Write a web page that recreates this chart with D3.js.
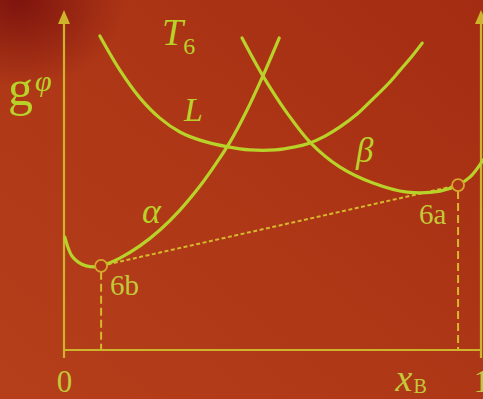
<!DOCTYPE html>
<html>
<head>
<meta charset="utf-8">
<script src="https://cdn.jsdelivr.net/npm/d3@7"></script>
<style>
  html, body { margin: 0; padding: 0; background: #ab3515; }
  svg { display: block; }
</style>
</head>
<body>
<div id="chart"></div>
<script>
// free energy curves (x = mole fraction of B, g in arbitrary units)
const alphaX = [0.002, 0.010, 0.019, 0.034, 0.053, 0.074, 0.089, 0.134, 0.182, 0.230, 0.278, 0.326, 0.362, 0.398, 0.439, 0.477, 0.516];
const alphaG = [3.34, 3.02, 2.78, 2.60, 2.49, 2.46, 2.49, 2.72, 3.08, 3.55, 4.14, 4.85, 5.47, 6.15, 7.10, 8.11, 9.23];

const liquidX = [0.086, 0.134, 0.182, 0.230, 0.278, 0.326, 0.393, 0.446, 0.506, 0.554, 0.588, 0.626, 0.662, 0.703, 0.741, 0.777, 0.806, 0.835, 0.859];
const liquidG = [9.29, 8.28, 7.46, 6.86, 6.45, 6.21, 6.01, 5.92, 5.92, 6.01, 6.12, 6.33, 6.60, 6.98, 7.43, 7.87, 8.28, 8.70, 9.08];

const betaX = [0.427, 0.477, 0.535, 0.592, 0.662, 0.741, 0.823, 0.902, 0.945, 0.974, 1.005];
const betaG = [9.23, 8.11, 7.01, 6.12, 5.41, 4.94, 4.67, 4.70, 4.88, 5.12, 5.62];

// common tangent points
const tangentNames = ["6b", "6a"];
const tangentX = [0.089, 0.945];
const tangentG = [2.49, 4.88];

const tickValues = [0, 1];
const tickLabels = ["0", "1"];

const W = 483, H = 399;
const svg = d3.select("#chart").append("svg")
    .attr("width", W)
    .attr("height", H);

const margin = { top: 12, right: 2, bottom: 49, left: 64 };
const x = d3.scaleLinear().domain([0, 1]).range([margin.left, W - margin.right]);
const y = d3.scaleLinear().domain([0, 10]).range([H - margin.bottom, margin.top]);

const curveColor = "#b9d22a";
const axisColor = "#cdb42a";
const textColor = "#c4c83a";
const serif = "'Liberation Serif', 'DejaVu Serif', serif";

// background
const defs = svg.append("defs");
const lin = defs.append("linearGradient").attr("id", "bg")
    .attr("x1", "0").attr("y1", "1").attr("x2", "1").attr("y2", "0");
lin.append("stop").attr("offset", "0%").attr("stop-color", "#b53f1a");
lin.append("stop").attr("offset", "55%").attr("stop-color", "#ad3616");
lin.append("stop").attr("offset", "100%").attr("stop-color", "#a42c12");
const rad = defs.append("radialGradient").attr("id", "spot")
    .attr("cx", "0.04").attr("cy", "0.0").attr("r", "0.22");
rad.append("stop").attr("offset", "0%").attr("stop-color", "#7e140e").attr("stop-opacity", 1);
rad.append("stop").attr("offset", "100%").attr("stop-color", "#7e140e").attr("stop-opacity", 0);

svg.append("rect").attr("width", W).attr("height", H).attr("fill", "url(#bg)");
svg.append("rect").attr("width", W).attr("height", H).attr("fill", "url(#spot)");

// axes
const x0 = x(0), x1 = x(1), yb = y(0), yt = y(10);
const axes = svg.append("g").attr("stroke", axisColor).attr("stroke-width", 2.2).attr("fill", "none");
axes.append("line").attr("x1", x0).attr("x2", x0).attr("y1", yb + 8).attr("y2", yt + 10);
axes.append("line").attr("x1", x1).attr("x2", x1).attr("y1", yb + 8).attr("y2", yt + 10);
axes.append("line").attr("x1", x0).attr("x2", x1).attr("y1", yb).attr("y2", yb);

[x0, x1].forEach(px => {
    svg.append("path")
        .attr("d", `M${px},${yt - 2} L${px - 6},${yt + 12} L${px + 6},${yt + 12} Z`)
        .attr("fill", axisColor);
});

// tick labels
const xAxis = svg.append("g")
    .attr("transform", `translate(0,${yb})`)
    .call(d3.axisBottom(x).tickValues(tickValues).tickFormat((d, i) => tickLabels[i]).tickSize(0).tickPadding(0));
xAxis.select(".domain").remove();
xAxis.selectAll("text")
    .attr("dy", null)
    .attr("y", 42)
    .attr("fill", textColor)
    .style("font-family", serif)
    .style("font-size", "31px");

// tangent line and drop lines
const line = d3.line().x(d => x(d[0])).y(d => y(d[1]));
svg.append("path")
    .datum(d3.zip(tangentX, tangentG))
    .attr("d", line)
    .attr("fill", "none")
    .attr("stroke", "#d6b82c")
    .attr("stroke-width", 2)
    .attr("stroke-dasharray", "4,2.5");

tangentX.forEach((tx, i) => {
    svg.append("line")
        .attr("x1", x(tx)).attr("x2", x(tx))
        .attr("y1", y(tangentG[i]) + 6).attr("y2", yb)
        .attr("stroke", "#d6b82c")
        .attr("stroke-width", 2)
        .attr("stroke-dasharray", "8,4");
});

// free energy curves
const smooth = d3.line().x(d => x(d[0])).y(d => y(d[1])).curve(d3.curveCatmullRom.alpha(0.5));
[[alphaX, alphaG], [liquidX, liquidG], [betaX, betaG]].forEach(([xs, gs]) => {
    svg.append("path")
        .datum(d3.zip(xs, gs))
        .attr("d", smooth)
        .attr("fill", "none")
        .attr("stroke", curveColor)
        .attr("stroke-width", 3.2)
        .attr("stroke-linecap", "round");
});

// tangent points
svg.selectAll("circle.pt")
    .data(d3.zip(tangentX, tangentG))
    .enter().append("circle")
    .attr("class", "pt")
    .attr("cx", d => x(d[0]))
    .attr("cy", d => y(d[1]))
    .attr("r", 6)
    .attr("fill", "#ad3616")
    .attr("stroke", "#d8a62e")
    .attr("stroke-width", 1.8);

// labels
function label(px, py, txt, size, opts = {}) {
    return svg.append("text")
        .attr("x", px).attr("y", py)
        .attr("fill", opts.color || curveColor)
        .style("font-family", serif)
        .style("font-size", size + "px")
        .style("font-style", opts.italic ? "italic" : "normal")
        .text(txt);
}

const g = label(8, 105, "g", 50);
g.append("tspan").attr("dx", 2).attr("dy", -14).style("font-size", "30px").style("font-style", "italic").text("φ");

const t = label(162, 45, "T", 38, { italic: true });
t.append("tspan").attr("dx", 0).attr("dy", 9).style("font-size", "24px").style("font-style", "normal").text("6");

label(184, 121, "L", 34, { italic: true });
label(142, 223, "α", 36, { italic: true });
label(356, 162, "β", 35, { italic: true });

label(x(tangentX[1]) - 39, 224, tangentNames[1], 29, { color: textColor });
label(x(tangentX[0]) + 9, 295, tangentNames[0], 29, { color: textColor });

const xb = label(x(0.795), 391, "x", 38, { italic: true, color: textColor });
xb.append("tspan").attr("dx", 1).attr("dy", 2).style("font-size", "20px").style("font-style", "normal").text("B");
</script>
</body>
</html>
